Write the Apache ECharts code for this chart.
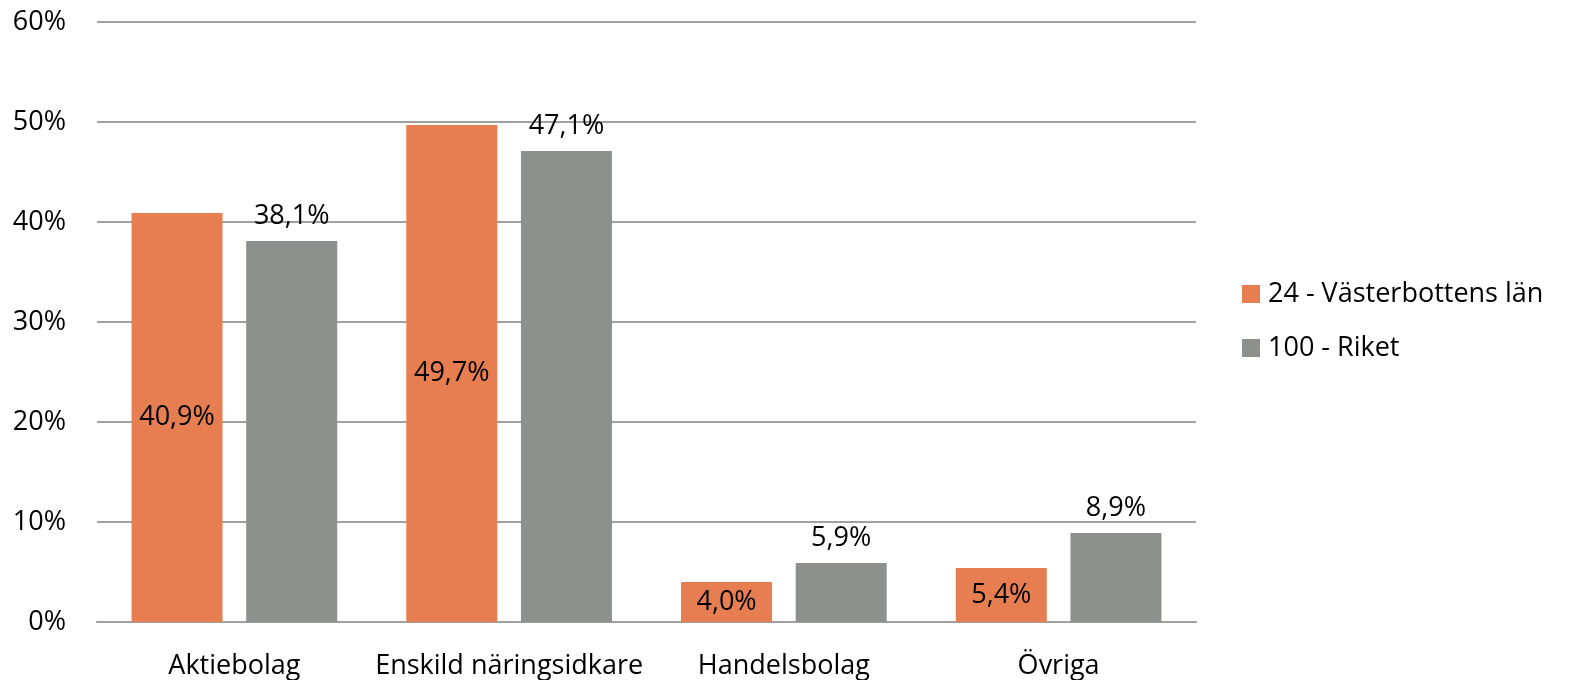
<!DOCTYPE html>
<html>
<head>
<meta charset="utf-8">
<script src="https://cdn.jsdelivr.net/npm/echarts@6/dist/echarts.min.js"></script>
<style>
  html, body { margin: 0; padding: 0; background: #fff; }
  #chart { width: 1571px; height: 680px; }
</style>
</head>
<body>
<div id="chart"></div>
<script>
var categories = ['Aktiebolag', 'Enskild näringsidkare', 'Handelsbolag', 'Övriga'];
var lanValues = [40.9, 49.7, 4.0, 5.4];
var riketValues = [38.1, 47.1, 5.9, 8.9];
var seriesNames = ['24 - Västerbottens län', '100 - Riket'];

var font = 'Open Sans';
var fs = 27;

function pct(p) {
    return p.value.toFixed(1).replace('.', ',') + '%';
}

var myChart = echarts.init(document.getElementById('chart'));
var option = {
    animation: false,
    textStyle: { fontFamily: font },
    grid: { left: 97, right: 375, top: 22, bottom: 58 },
    legend: {
        orient: 'vertical',
        left: 1242,
        top: 280,
        padding: 0,
        itemWidth: 18,
        itemHeight: 18,
        itemGap: 26,
        icon: 'rect',
        textStyle: { fontFamily: font, fontSize: fs, color: '#000', lineHeight: 28, padding: [0, 0, 0, 3] },
        data: seriesNames
    },
    xAxis: {
        type: 'category',
        data: categories,
        axisTick: { show: false },
        axisLine: { lineStyle: { color: '#a0a0a0', width: 2 } },
        axisLabel: { fontFamily: font, fontSize: fs, color: '#000', margin: 31, interval: 0 }
    },
    yAxis: {
        type: 'value',
        min: 0,
        max: 60,
        interval: 10,
        axisLine: { show: false },
        axisTick: { show: false },
        splitLine: { lineStyle: { color: '#a0a0a0', width: 2 } },
        axisLabel: { fontFamily: font, fontSize: fs, color: '#000', margin: 31,
            formatter: function (v) { return v + '%'; } }
    },
    series: [
        {
            name: seriesNames[0],
            type: 'bar',
            data: lanValues,
            barWidth: 91,
            barGap: '26%',
            itemStyle: { color: '#E67E51' },
            label: { show: true, position: 'inside', fontFamily: font, fontSize: fs, color: '#000', formatter: pct }
        },
        {
            name: seriesNames[1],
            type: 'bar',
            data: riketValues,
            barWidth: 91,
            itemStyle: { color: '#8C918E' },
            label: { show: true, position: 'top', distance: 11, fontFamily: font, fontSize: fs, color: '#000', formatter: pct }
        }
    ]
};
myChart.setOption(option);
</script>
</body>
</html>
